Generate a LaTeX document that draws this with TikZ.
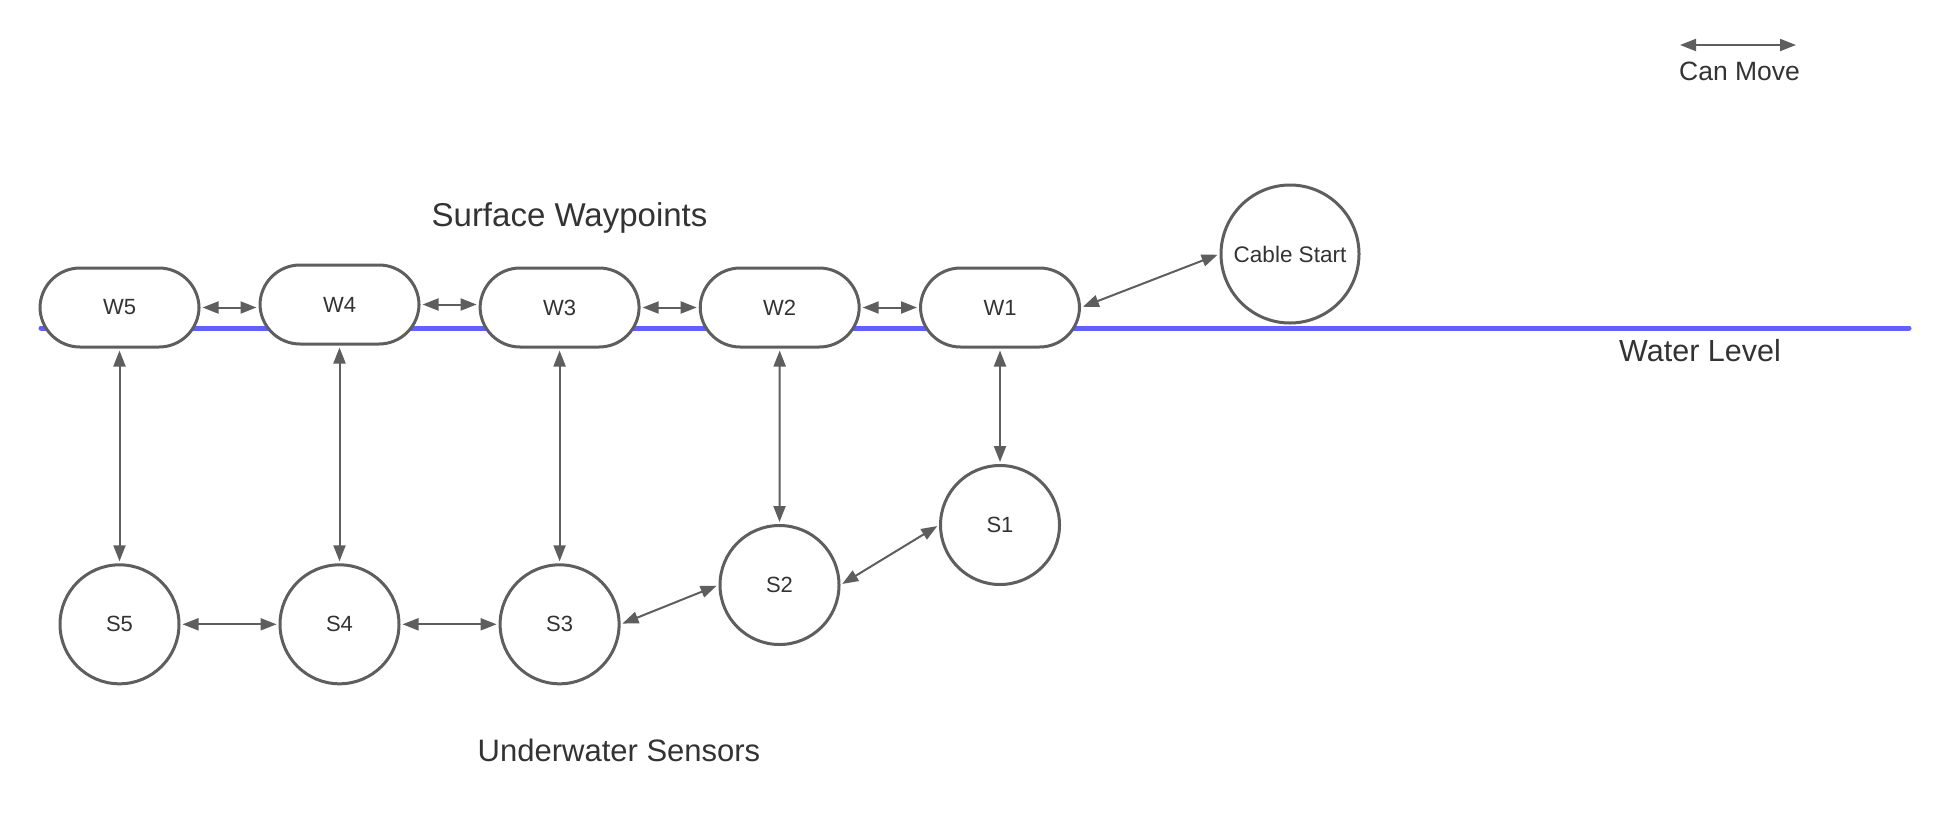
\documentclass[tikz,border=0pt]{standalone}
\usepackage{fontspec}
\setmainfont{Liberation Sans}
\usetikzlibrary{arrows.meta}
\definecolor{edgec}{HTML}{5E5E5E}
\definecolor{waterc}{HTML}{6161FF}
\definecolor{txtc}{HTML}{333333}
\tikzset{
  wpt/.style={draw=edgec, line width=3pt, rounded corners=40pt, minimum width=159pt, minimum height=79pt, fill=white, inner sep=0pt, text=txtc, font=\fontsize{22}{26}\selectfont},
  sens/.style={circle, draw=edgec, line width=3pt, minimum size=119pt, inner sep=0pt, fill=white, text=txtc, font=\fontsize{22}{26}\selectfont},
  link/.style={draw=edgec, line width=2pt, {Triangle[length=16pt,width=12pt]}-{Triangle[length=16pt,width=12pt]}, shorten >=2pt, shorten <=2pt},
  biglabel/.style={text=txtc, inner sep=0pt}
}
\begin{document}
\begin{tikzpicture}[x=1pt,y=-1pt]
\useasboundingbox (0,0) rectangle (1950,825);
% water level
\coordinate (wl1) at (41,328);
\coordinate (wl2) at (1909,328);
\draw[waterc, line width=5pt, line cap=round] (wl1) -- (wl2);
% surface waypoints
\node[wpt] (W5) at (119.5,307.5) {W5};
\node[wpt] (W4) at (339.5,304.5) {W4};
\node[wpt] (W3) at (559.6,307.5) {W3};
\node[wpt] (W2) at (779.7,307.5) {W2};
\node[wpt] (W1) at (1000,307.5) {W1};
\node[sens, minimum size=138pt, font=\fontsize{22.5}{26}\selectfont] (CS) at (1290,254) {Cable Start};
% sensors
\node[sens] (S1) at (1000,525) {S1};
\node[sens] (S2) at (779.5,585) {S2};
\node[sens] (S3) at (559.6,624.3) {S3};
\node[sens] (S4) at (339.5,624.3) {S4};
\node[sens] (S5) at (119.5,624.3) {S5};
% connectors
\draw[link] (W5.east) -- (W5.east -| W4.west);
\draw[link] (W4.east) -- (W4.east -| W3.west);
\draw[link] (W3.east) -- (W2.west);
\draw[link] (W2.east) -- (W1.west);
\draw[link] (W1.east) -- (CS.west);
\draw[link] (W5.south) -- (S5.north);
\draw[link] (W4.south) -- (S4.north);
\draw[link] (W3.south) -- (S3.north);
\draw[link] (W2.south) -- (S2.north);
\draw[link] (W1.south) -- (S1.north);
\draw[link] (S5.east) -- (S4.west);
\draw[link] (S4.east) -- (S3.west);
\draw[link] (S3.east) -- (S2.west);
\draw[link] (S2.east) -- (S1.west);
% labels
\node[biglabel, anchor=base, font=\fontsize{33}{38}\selectfont] (lsw) at (569.5,226) {Surface Waypoints};
\node[biglabel, anchor=base, font=\fontsize{31}{37}\selectfont] (lus) at (619,761) {Underwater Sensors};
\node[biglabel, anchor=base west, font=\fontsize{30.5}{36}\selectfont] (lwl) at (1619,361.5) {Water Level};
% legend
\coordinate (lg1) at (1680,45);
\coordinate (lg2) at (1796,45);
\draw[link, shorten >=0pt, shorten <=0pt] (lg1) -- (lg2);
\node[biglabel, anchor=base west, font=\fontsize{26.5}{31}\selectfont] (lcm) at (1679,80) {Can Move};
\end{tikzpicture}
\end{document}
